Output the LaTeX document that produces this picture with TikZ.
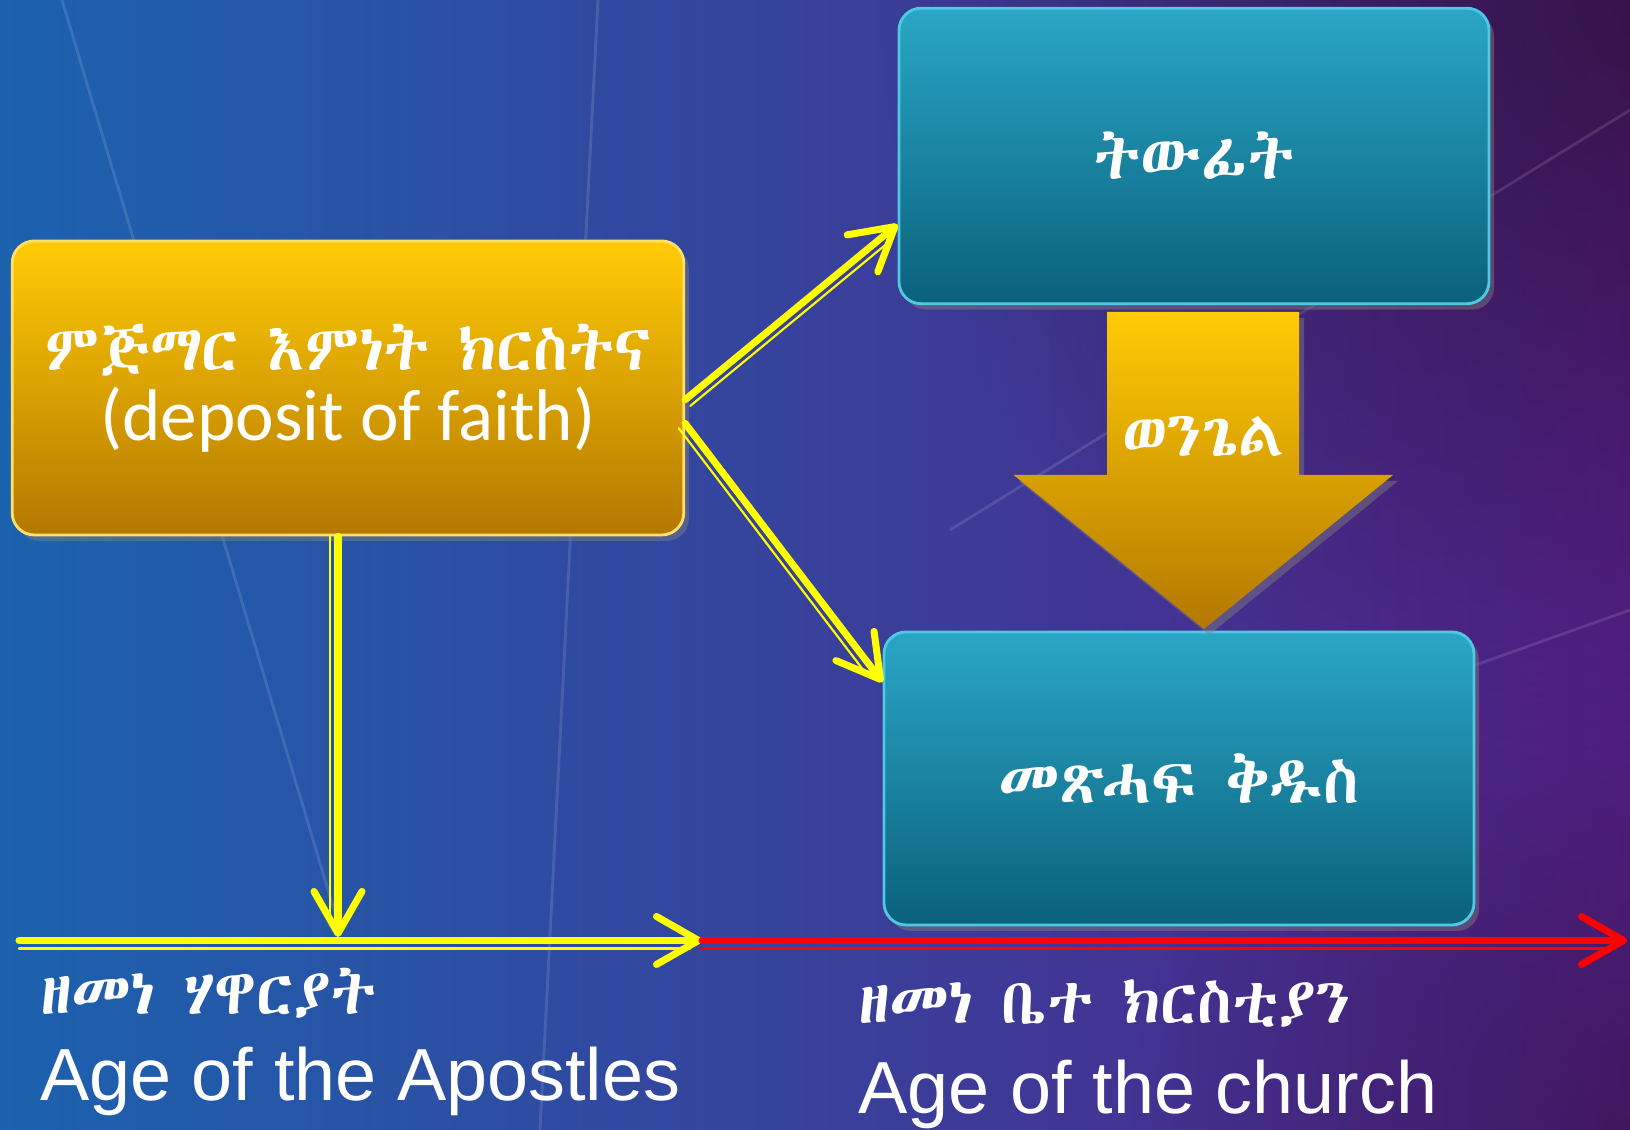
\documentclass[tikz,border=0pt]{standalone}
\usepackage{fontspec}
\setmainfont{Carlito}
\IfFontExistsTF{Abyssinica SIL}{\newfontfamily\ethfont{Abyssinica SIL}}{%
  \IfFontExistsTF{Noto Sans Ethiopic}{\newfontfamily\ethfont{Noto Sans Ethiopic}}{%
    \newfontfamily\ethfont{DejaVu Sans}}}
\newfontfamily\agefont{Liberation Sans}
\usetikzlibrary{arrows.meta,shadows,fadings}
\definecolor{bgleft}{HTML}{1C62AE}
\definecolor{bgmid}{HTML}{2A3CA6}
\definecolor{bgright}{HTML}{532088}
\definecolor{bgdark}{HTML}{2A0E30}
\definecolor{goldtop}{HTML}{FFCB05}
\definecolor{goldbot}{HTML}{B47800}
\definecolor{goldrim}{HTML}{FFE066}
\definecolor{tealtop}{HTML}{2AA6C6}
\definecolor{tealbot}{HTML}{0A617C}
\definecolor{tealrim}{HTML}{5FD6EE}
\definecolor{lineyel}{HTML}{FFFF00}
\definecolor{linered}{HTML}{FF0000}
\tikzfading[name=glowfade,inner color=transparent!0,outer color=transparent!100]

\begin{document}
\begin{tikzpicture}[
	box/.style={rectangle,rounded corners=0.22cm,text=white,align=center,line width=0.8pt,
	  drop shadow={opacity=0.45,shadow xshift=0.05,shadow yshift=-0.06}},
	goldbox/.style={box,top color=goldtop,bottom color=goldbot,draw=goldrim},
	tealbox/.style={box,top color=tealtop,bottom color=tealbot,draw=tealrim!70!tealtop},
	twin/.style={draw=lineyel,line width=2pt,line cap=round,
	  -{Straight Barb[length=4.2mm,width=4.8mm,round]},
	  postaction={draw,-,line width=0.6pt,shorten >=1.2mm,transform canvas={shift={#1}}}},
	eth/.style={font=\ethfont\fontsize{18pt}{22pt}\selectfont,text=white},
	age/.style={font=\agefont\fontsize{21pt}{24pt}\selectfont,text=white,inner sep=0pt},
	]
\useasboundingbox (0,0) rectangle (16.3,11.3);
\shade[left color=bgleft,middle color=bgmid,right color=bgright] (0,0) rectangle (16.3,11.3);
\fill[bgdark,opacity=0.7,path fading=glowfade] (16.3,11.3) circle (7.5);
\fill[bgdark,opacity=0.45,path fading=glowfade] (16.3,0) circle (5);
\draw[white,opacity=0.12,line width=0.8pt] (0.62,11.3) -- (3.4,2.0)
  (5.98,11.3) -- (5.4,0) (9.5,6.0) -- (16.3,10.2) (9.0,2.6) -- (16.3,5.2);

\node (faith) [goldbox,minimum width=6.715cm,minimum height=2.94cm] at (3.48,7.42)
  {{\ethfont\fontsize{18pt}{22pt}\selectfont ምጅማር እምነት ክርስትና}\\[2pt]
   {\fontsize{20.8pt}{22pt}\selectfont (deposit of faith)}};
\node (trad) [tealbox,minimum width=5.9cm,minimum height=2.955cm] at (11.94,9.74)
  {\ethfont\fontsize{18.5pt}{22pt}\selectfont ትውፊት};
\node (bible) [tealbox,minimum width=5.9cm,minimum height=2.93cm] at (11.79,3.515)
  {\ethfont\fontsize{18.5pt}{22pt}\selectfont መጽሓፍ ቅዱስ};

\shade[top color=goldtop,bottom color=goldbot,drop shadow={opacity=0.45,shadow xshift=0.05,shadow yshift=-0.06}]
  (11.07,8.18) -- (12.99,8.18) -- (12.99,6.55) -- (13.93,6.55) -- (12.04,5.01)
  -- (10.135,6.55) -- (11.07,6.55) -- cycle;
\node (gospel) [eth] at (12.04,6.93) {ወንጌል};

\coordinate (t0) at (0.19,1.895);
\coordinate (t1) at (7.02,1.895);
\coordinate (t2) at (16.27,1.895);
\coordinate (apo) at (3.38,1.93);

\draw[twin={(0.051,-0.062)}] (faith.-2) -- (trad.193);
\draw[twin={(-0.064,-0.048)}] (faith.-6) -- (bible.162);
\draw[twin={(-0.08,0)}] (faith.south -| apo) -- (apo);
\draw[twin={(0,-0.08)}] (t0) -- (t1);
\draw[twin={(0,-0.08)},draw=linered] (t1) -- (t2);

\node (apoeth) [eth,anchor=west,inner sep=0pt] at (0.395,1.37) {ዘመነ ሃዋርያት};
\node (apoeng) [age,anchor=west] at (0.395,0.49) {Age of the Apostles};
\node (cheth) [eth,anchor=west,inner sep=0pt] at (8.58,1.27) {ዘመነ ቤተ ክርስቲያን};
\node (cheng) [age,anchor=west] at (8.58,0.36) {Age of the church};
\end{tikzpicture}
\end{document}
